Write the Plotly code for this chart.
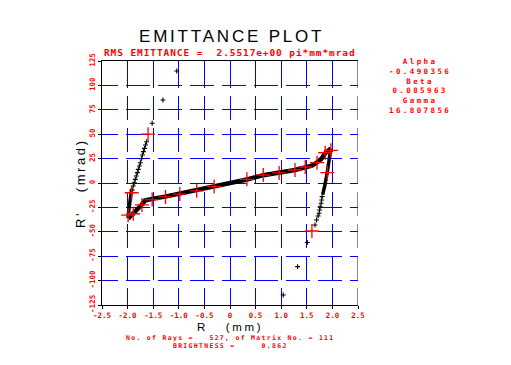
import plotly.graph_objects as go

# ---------------- data ----------------
x_ticks = [-2.5, -2.0, -1.5, -1.0, -0.5, 0, 0.5, 1.0, 1.5, 2.0, 2.5]
x_tick_labels = ["-2.5", "-2.0", "-1.5", "-1.0", "-0.5", "0", "0.5", "1.0", "1.5", "2.0", "2.5"]
y_ticks = [-125, -100, -75, -50, -25, 0, 25, 50, 75, 100, 125]
y_tick_labels = ["-125", "-100", "-75", "-50", "-25", "0", "25", "50", "75", "100", "125"]

# dense core band of rays (R in mm, R' in mrad)
core_r = [-1.99, -1.92, -1.85, -1.78, -1.72, -1.66, -1.58, -1.50, -1.27, -0.98, -0.65, -0.30,
          0.00, 0.33, 0.65, 0.98, 1.27, 1.47, 1.60, 1.69, 1.78, 1.86, 1.97]
core_rp = [-36.5, -33.0, -29.0, -25.0, -22.0, -18.0, -16.8, -16.0, -14.0, -11.0, -7.2, -3.6,
           -0.4, 3.6, 8.0, 10.5, 13.3, 16.0, 17.8, 20.8, 24.5, 30.5, 35.5]

# dense parts of the two wings
left_band_r = [-1.92, -1.95, -1.97, -1.99]
left_band_rp = [-6.0, -15.0, -25.0, -36.0]
right_band_r = [1.97, 1.93, 1.89, 1.85, 1.81]
right_band_rp = [35.0, 20.0, 8.0, -3.0, -12.0]

# individual (sparse) rays
ray_r = [-1.91, -1.89, -1.87, -1.85, -1.83, -1.81, -1.79, -1.77, -1.75, -1.73, -1.71, -1.69,
         -1.67, -1.65, -1.63, -1.52, -1.31, -1.04,
         1.80, 1.79, 1.78, 1.76, 1.75, 1.74, 1.72, 1.69, 1.66, 1.51, 1.32, 1.04]
ray_rp = [-7.2, -3.1, 0.3, 3.7, 7.2, 10.6, 14.0, 17.4, 20.8, 24.9, 28.7, 32.1,
          35.5, 38.9, 42.3, 61.2, 85.0, 114.8,
          -14.0, -17.4, -20.8, -24.3, -27.7, -31.0, -33.8, -37.9, -43.0, -61.0, -85.7, -114.8]

# marked rays (red crosses)
mark_r = [-1.60, -1.92, -1.99, -1.89, -1.72, -1.52, -1.26, -0.98, -0.65, -0.31,
          0.33, 0.65, 0.96, 1.27, 1.47, 1.70, 1.86, 1.97, 1.90, 1.60]
mark_rp = [50.0, -10.0, -33.0, -31.5, -22.5, -17.0, -14.3, -11.3, -8.0, -3.5,
           3.8, 8.2, 10.3, 13.3, 16.4, 20.8, 31.0, 33.5, 10.6, -49.2]

title_text = "EMITTANCE PLOT"
subtitle_text = "RMS EMITTANCE =  2.5517e+00 pi*mm*mrad"
param_lines = ["Alpha", "-0.490356", "Beta", "0.085963", "Gamma", "16.807856"]
info_lines = ["No. of Rays =   527, of Matrix No. = 111", "BRIGHTNESS =     0.862"]
x_title = "R   (mm)"
y_title = "R'   (mrad)"

# ---------------- layout geometry ----------------
# the page body has an 8px default margin, so the figure is drawn 8px in
OFF = 8
W, H = 511 - OFF, 365 - OFF
# plot area on screen: x 102..358, y 61..305
L, T = 102 - OFF, 61 - OFF
PW, PH = 256, 244
R = W - L - PW
B = H - T - PH


def px(xs):
    return (xs - 102) / PW


def py(ys):
    return (305 - ys) / PH


VDASH = "27px,8px" + ",24px,8px" * 7
HDASH = "16px,8px" + ",24px,8px" * 8

RED = "#ff0000"
BLUE = "#0000ff"
MONO = "DejaVu Sans Mono"
SANS = "Liberation Sans"


def spaced(txt, ls):
    return '<span style="letter-spacing:%spx">%s</span>' % (ls, txt)


fig = go.Figure()
fig.add_trace(go.Scatter(x=left_band_r, y=left_band_rp, mode="lines",
                         line=dict(color="black", width=3.5), hoverinfo="skip"))
fig.add_trace(go.Scatter(x=right_band_r, y=right_band_rp, mode="lines",
                         line=dict(color="black", width=3.5), hoverinfo="skip"))
fig.add_trace(go.Scatter(x=core_r, y=core_rp, mode="lines",
                         line=dict(color="black", width=4.5), hoverinfo="skip"))
fig.add_trace(go.Scatter(x=ray_r, y=ray_rp, mode="markers",
                         marker=dict(symbol="cross-thin", size=3.5, color="black",
                                     line=dict(color="black", width=1.1)), hoverinfo="skip"))
fig.add_trace(go.Scatter(x=mark_r, y=mark_rp, mode="markers",
                         marker=dict(symbol="cross-thin", size=10, color=RED,
                                     line=dict(color=RED, width=1.3)), hoverinfo="skip"))

fig.update_layout(
    width=W, height=H,
    margin=dict(l=L, r=R, t=T, b=B, pad=0),
    paper_bgcolor="white", plot_bgcolor="white",
    showlegend=False,
)
fig.update_xaxes(
    range=[x_ticks[0], x_ticks[-1]], tickmode="array", tickvals=x_ticks, ticktext=x_tick_labels,
    showgrid=True, gridcolor=BLUE, gridwidth=1, griddash=VDASH,
    zeroline=False, showline=True, linecolor="black", linewidth=1, mirror=True,
    ticks="outside", ticklen=3, tickcolor="black", tickwidth=1,
    tickfont=dict(family=MONO, size=7.5, color=RED, weight="bold"),
)
fig.update_yaxes(
    range=[y_ticks[0], y_ticks[-1]], tickmode="array", tickvals=y_ticks, ticktext=y_tick_labels,
    showgrid=True, gridcolor=BLUE, gridwidth=1, griddash=HDASH,
    zeroline=False, showline=True, linecolor="black", linewidth=1, mirror=False,
    ticks="outside", ticklen=3, tickcolor="black", tickwidth=1, tickangle=-90,
    tickfont=dict(family=MONO, size=7.5, color=RED, weight="bold"),
)

# right-edge gridline (the right side of the frame is a blue grid line, not an axis line)
fig.add_shape(type="line", xref="x", yref="paper", x0=x_ticks[-1], x1=x_ticks[-1], y0=1, y1=0,
              line=dict(color=BLUE, width=1, dash=VDASH), layer="below")

ann = []
ann.append(dict(text=spaced(title_text, 2.8),
                x=px(231), y=py(37), font=dict(family=SANS, size=17, color="black")))
ann.append(dict(text=spaced(subtitle_text, 0.9), x=px(230), y=py(52),
                font=dict(family=MONO, size=9.5, color=RED, weight="bold")))
ann.append(dict(text="<br>".join(spaced(s, 2.4) for s in param_lines),
                x=px(420), y=py(86),
                font=dict(family=MONO, size=7.5, color=RED, weight="bold")))
ann.append(dict(text=spaced(x_title, 2.7),
                x=px(230), y=py(327), font=dict(family=SANS, size=11.5, color="black"),
                borderpad=0))
ann.append(dict(text=spaced(y_title, 2.6),
                x=px(80), y=py(183), textangle=-90,
                font=dict(family=SANS, size=13, color="black")))
ann.append(dict(text="<br>".join(spaced(s, 1.3) for s in info_lines),
                x=px(230.5), y=py(341.5),
                font=dict(family=MONO, size=6.5, color=RED, weight="bold"),
                borderpad=0))
for a in ann:
    a.setdefault("borderpad", 1)
    a.update(xref="paper", yref="paper", showarrow=False, xanchor="center", yanchor="middle")
fig.update_layout(annotations=ann)

fig.write_html("out.html")
